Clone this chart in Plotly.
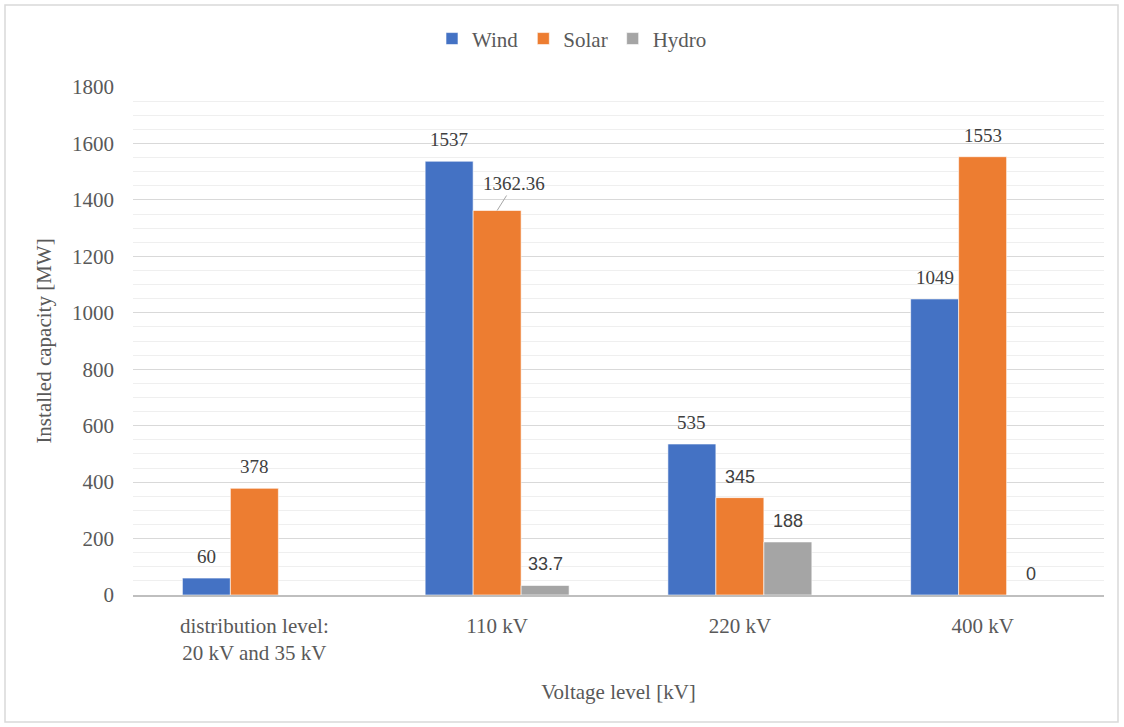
import plotly.graph_objects as go

categories = ["distribution level:<br>20 kV and 35 kV", "110 kV", "220 kV", "400 kV"]
series_names = ["Wind", "Solar", "Hydro"]
wind = [60, 1537, 535, 1049]
solar = [378, 1362.36, 345, 1553]
hydro = [None, 33.7, 188, 0]
label_text = {
    "Wind": ["60", "1537", "535", "1049"],
    "Solar": ["378", "1362.36", "345", "1553"],
    "Hydro": ["", "33.7", "188", "0"],
}
label_sans = {
    "Wind": [False, False, False, False],
    "Solar": [False, False, True, False],
    "Hydro": [False, True, True, True],
}
colors = {"Wind": "#4472C4", "Solar": "#ED7D31", "Hydro": "#A5A5A5"}

SERIF = "Liberation Serif"
SANS = "Liberation Sans"

values = {"Wind": wind, "Solar": solar, "Hydro": hydro}

fig = go.Figure()
for name in series_names:
    fig.add_trace(go.Bar(
        name=name, x=categories, y=values[name],
        marker=dict(color=colors[name], line=dict(color="white", width=0.6)),
    ))

# data labels
bar_px = 48
for i, name in enumerate(series_names):
    for j, cat in enumerate(categories):
        v = values[name][j]
        t = label_text[name][j]
        if v is None or t == "":
            continue
        font = dict(family=SANS if label_sans[name][j] else SERIF,
                    size=18 if label_sans[name][j] else 19, color="#404040")
        if name == "Solar" and j == 1:
            fig.add_annotation(x=cat, y=v, xref="x", yref="y", text=t,
                               xshift=(i - 1) * bar_px, showarrow=True,
                               arrowhead=0, arrowwidth=1, arrowcolor="#A6A6A6",
                               ax=17, ay=-27, font=font)
        else:
            fig.add_annotation(x=cat, y=v, xref="x", yref="y", text=t,
                               xshift=(i - 1) * bar_px, yshift=9,
                               yanchor="bottom", showarrow=False, font=font)

L, R, T, B = 133, 20, 87, 132
W, H = 1124, 727
pw, ph = W - L - R, H - T - B
fig.add_shape(type="rect", xref="paper", yref="paper",
              x0=(5 - L) / pw, x1=(W - 6 - L) / pw,
              y0=(H - B - (H - 5)) / ph, y1=(H - B - 5) / ph,
              line=dict(color="#D9D9D9", width=1.5), fillcolor="rgba(0,0,0,0)", layer="below")

fig.update_layout(
    width=W, height=H,
    margin=dict(l=L, r=R, t=T, b=B),
    paper_bgcolor="white", plot_bgcolor="white",
    barmode="group", bargap=0.407, bargroupgap=0,
    font=dict(family=SERIF, size=21, color="#595959"),
    legend=dict(orientation="h", x=(572 - L) / pw, xanchor="center", y=1.135, yanchor="top",
                font=dict(family=SERIF, size=21, color="#595959"),
                itemwidth=30, traceorder="normal"),
    xaxis=dict(
        title=dict(text="Voltage level [kV]", standoff=20,
                   font=dict(family=SERIF, size=21, color="#595959")),
        showline=True, linecolor="#BFBFBF", linewidth=1.5,
        ticks="", ticklabelstandoff=11,
        tickfont=dict(family=SERIF, size=21, color="#595959"),
    ),
    yaxis=dict(
        title=dict(text="Installed capacity [MW]", standoff=14,
                   font=dict(family=SERIF, size=21, color="#595959")),
        range=[0, 1800], dtick=200, tick0=0,
        showgrid=True, gridcolor="#D9D9D9", gridwidth=1.2,
        minor=dict(dtick=50, showgrid=True, gridcolor="#EFEFEF", gridwidth=1),
        zeroline=False, ticks="", ticklabelstandoff=18,
        tickfont=dict(family=SERIF, size=21, color="#595959"),
    ),
)

fig.write_html("out.html", config={"displayModeBar": False},
               post_script="document.body.style.margin='0';")
